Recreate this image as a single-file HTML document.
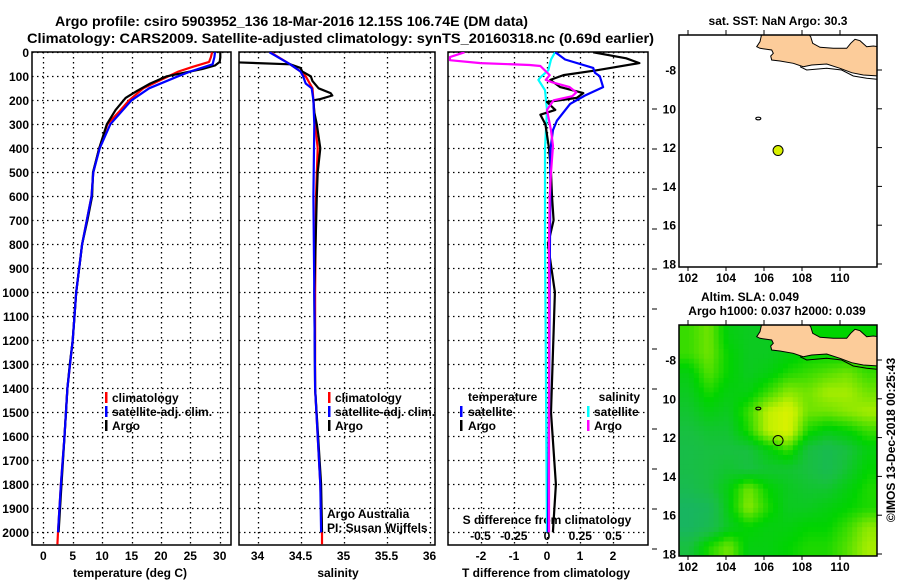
<!DOCTYPE html>
<html><head><meta charset="utf-8"><title>Argo profile</title>
<style>
html,body{margin:0;padding:0;background:#fff;}
svg{display:block;font-family:"Liberation Sans",sans-serif;}
.b{font-weight:bold;font-size:12px;}
</style></head>
<body>
<svg id="chart" width="900" height="580" viewBox="0 0 900 580" xmlns="http://www.w3.org/2000/svg">
<defs>
<clipPath id="c1"><rect x="32" y="52" width="199" height="493"/></clipPath>
<clipPath id="c2"><rect x="239" y="52" width="196" height="493"/></clipPath>
<clipPath id="c3"><rect x="448" y="52" width="200" height="493"/></clipPath>
<clipPath id="cm1"><rect x="679" y="35" width="198" height="232"/></clipPath>
<clipPath id="cm2"><rect x="679" y="325" width="198" height="231"/></clipPath>
</defs>
<text x="55" y="26" textLength="473" lengthAdjust="spacingAndGlyphs" style="font-weight:bold;font-size:14px">Argo profile: csiro 5903952_136 18-Mar-2016 12.15S 106.74E (DM data)</text>
<text x="27" y="43" textLength="627" lengthAdjust="spacingAndGlyphs" style="font-weight:bold;font-size:14px">Climatology: CARS2009. Satellite-adjusted climatology: synTS_20160318.nc (0.69d earlier)</text>
<g id="g1"></g>
<g id="g2"></g>
<g id="g3"></g>
<g id="gm"></g>
</svg>
<script>
// ---------- data ----------
const depthTicks=[0,100,200,300,400,500,600,700,800,900,1000,1100,1200,1300,1400,1500,1600,1700,1800,1900,2000];
const tTicks=[0,5,10,15,20,25,30];
const sTicks=[34,34.5,35,35.5,36];
const sTickLabels=["34","34.5","35","35.5","36"];
const dTTicks=[-2,-1,0,1,2];
const dSTicks=[-0.5,-0.25,0,0.25,0.5];
const dSTickLabels=["-0.5","-0.25","0","0.25","0.5"];

const argoTDepth=[0,20,40,55,70,100,130,160,190,240,300,400,500,600,700,800,900,1000,1100,1200,1300,1400,1600,1800,2000];
const argoT=[30.1,30.1,30.0,29.2,27.0,21.0,18.2,16.0,14.0,12.3,10.8,9.5,8.45,8.3,7.5,6.6,6.1,5.6,5.3,5.0,4.5,4.1,3.6,3.1,2.6];
const climTDepth=[0,20,40,60,80,100,150,200,250,300,400,500,600,800,1000,1200,1400,1600,1800,2000,2050];
const climT=[28.7,28.5,28.2,25.5,23.0,21.3,17.0,14.6,12.8,10.9,9.5,8.5,8.2,6.6,5.6,5.0,4.1,3.6,3.0,2.5,2.4];
const satTDepth=[0,20,50,80,100,150,200,250,300,400,500,600,800,1000,1200,1400,1600,1800,2000];
const satT=[29.2,29.1,28.8,25.0,22.9,18.0,15.0,13.2,11.4,9.6,8.5,8.2,6.6,5.6,5.0,4.1,3.6,3.0,2.5];

const argoSDepth=[0,40,45,50,65,80,100,120,150,170,180,195,200,250,300,400,500,600,1000,1400,1800,2000];
const argoS=[33.6,33.6,34.0,34.38,34.5,34.52,34.62,34.64,34.71,34.85,34.87,34.73,34.65,34.66,34.69,34.73,34.70,34.69,34.66,34.67,34.74,34.75];
const climSDepth=[0,50,80,100,150,200,300,400,600,1000,1400,1800,2000,2050];
const climS=[34.15,34.38,34.5,34.56,34.64,34.65,34.67,34.70,34.68,34.67,34.67,34.73,34.75,34.75];
const satSDepth=[0,50,80,100,130,150,200,300,600,1000,1400,1800,2000];
const satS=[34.14,34.38,34.5,34.53,34.56,34.63,34.65,34.66,34.65,34.66,34.67,34.73,34.74];

const dDepth=[0,25,45,75,95,115,145,170,190,207,240,260,300,400,500,600,700,800,1000,1500,1800,2000];
const argoDT=[1.4,2.4,2.8,1.5,0.5,0.1,0.4,1.1,0.9,0.0,0.25,-0.2,-0.05,0.06,0.12,0.15,0.2,0.03,0.24,0.12,0.27,0.18];
const satDTDepth=[0,30,65,85,100,145,180,215,285,325,410,600,1000,1500,2000];
const satDT=[0.25,0.55,1.4,1.45,1.6,1.7,1.15,0.7,0.3,0.18,0.1,0.1,0.08,0.06,0.03];
const argoDSDepth=[0,20,33,45,53,57,95,115,125,145,167,183,200,240,325,390,500,600,800,1000,1500,2000];
const argoDS=[-0.62,-0.73,-0.73,-0.5,-0.13,-0.05,0.02,-0.01,0.04,0.17,0.22,0.19,0.05,0.0,0.03,0.045,0.03,0.02,0.015,0.015,0.015,0.015];
const satDSDepth=[0,30,75,104,115,158,240,400,500,800,1200,1600,2000];
const satDS=[0.06,0.03,0.01,-0.05,-0.065,-0.015,0.0,-0.015,-0.015,-0.015,-0.01,-0.005,0.0];

const mapLonTicks=[102,104,106,108,110];
const mapLatTicks=[-8,-10,-12,-14,-16,-18];
const mapLatLabels=["-8","10","12","14","16","18"];
const argoLon=106.74, argoLat=-12.15;
// SLA heatmap (normalised 0..1), rows from north to south, 10 columns
const slaGrid=[
[0.6,0.7,0.45,0.4,0.4,0.45,0.5,0.5,0.5,0.5],
[0.6,0.7,0.5,0.4,0.4,0.45,0.5,0.5,0.5,0.5],
[0.45,0.65,0.5,0.4,0.45,0.55,0.6,0.65,0.7,0.6],
[0.4,0.55,0.45,0.45,0.6,0.75,0.7,0.8,0.8,0.7],
[0.35,0.45,0.4,0.6,0.85,0.95,0.7,0.7,0.75,0.8],
[0.3,0.35,0.35,0.55,0.85,0.95,0.55,0.45,0.5,0.6],
[0.25,0.3,0.3,0.3,0.45,0.6,0.3,0.2,0.3,0.45],
[0.25,0.3,0.35,0.3,0.35,0.35,0.3,0.2,0.35,0.5],
[0.2,0.3,0.45,0.7,0.5,0.4,0.35,0.35,0.45,0.55],
[0.1,0.15,0.45,0.75,0.55,0.4,0.4,0.45,0.5,0.55],
[0.1,0.2,0.4,0.5,0.45,0.45,0.5,0.5,0.6,0.75],
[0.3,0.55,0.7,0.45,0.45,0.5,0.55,0.55,0.65,0.8]];

// ---------- scales ----------
const yD=d=>52.3+d*0.24;
const xT=t=>43.3+t*5.88;
const xS=s=>257.5+(s-34)*86;
const xdT=v=>547+v*33;
const xdS=v=>547+v*133;
const mxLon=l=>688+(l-102)*19;
const myLat1=l=>70+(-8-l)*19.4;
const myLat2=l=>360+(-8-l)*19.4;

const NS="http://www.w3.org/2000/svg";
function mk(parent,tag,attrs,txt){const e=document.createElementNS(NS,tag);for(const k in attrs)e.setAttribute(k,attrs[k]);if(txt!==undefined)e.textContent=txt;parent.appendChild(e);return e;}
function pathOf(xs,ds,fx){return xs.map((v,i)=>(i?'L':'M')+fx(v).toFixed(1)+','+yD(ds[i]).toFixed(1)).join('');}

function panel(g,x0,x1,clip,vTickXs){
  for(const d of depthTicks){const y=Math.round(yD(d))+0.5;
    const l=mk(g,'line',{x1:x0,x2:x1,y1:y,y2:y,stroke:'#000','stroke-width':1.3,'stroke-dasharray':'1.5,3.5'});
    
    }
  for(const xx of vTickXs){const x=Math.round(xx)+0.5;
    const l=mk(g,'line',{x1:x,x2:x,y1:52,y2:545,stroke:'#000','stroke-width':1.3,'stroke-dasharray':'1.5,3.5'});
    
    }
  const r=mk(g,'rect',{x:x0,y:52,width:x1-x0,height:493,fill:'none',stroke:'#000','stroke-width':1.5});
  
  
}
function line(g,clip,xs,ds,fx,color,name){
  const p=mk(g,'path',{d:pathOf(xs,ds,fx),fill:'none',stroke:color,'stroke-width':2.2,'clip-path':'url(#'+clip+')','stroke-linejoin':'round'});
  
  
}
function txt(g,x,y,s,name,anchor,cls,extra){
  const t=mk(g,'text',Object.assign({x:x,y:y,'text-anchor':anchor||'start',class:cls||'b'},extra||{}),s);
  
  
  return t;
}
function legendBar(g,x,y,color,name){
  const r=mk(g,'rect',{x:x,y:y,width:2.5,height:11,fill:color});
  
  
}

// ---------- panel 1 ----------
const g1=document.getElementById('g1');
panel(g1,32,231,'c1',tTicks.map(xT));
for(const d of depthTicks){txt(g1,29,yD(d)+4.5,String(d),'y-tick-label','end');}
for(const t of tTicks){txt(g1,xT(t),560,String(t),'x-tick-label','middle');}
txt(g1,130,577,'temperature (deg C)','x-axis-title','middle');
line(g1,'c1',climT,climTDepth,xT,'#ff0000','climatology-temperature-line');
line(g1,'c1',argoT,argoTDepth,xT,'#000000','argo-temperature-line');
line(g1,'c1',satT,satTDepth,xT,'#0000ff','satellite-temperature-line');
legendBar(g1,105,392,'#ff0000','legend-climatology-marker');
txt(g1,112,402,'climatology','legend-climatology');
legendBar(g1,105,406,'#0000ff','legend-satellite-marker');
txt(g1,112,416,'satellite-adj. clim.','legend-satellite');
legendBar(g1,105,420,'#000000','legend-argo-marker');
txt(g1,112,430,'Argo','legend-argo');

// ---------- panel 2 ----------
const g2=document.getElementById('g2');
panel(g2,239,435,'c2',sTicks.map(xS));
sTicks.forEach((s,i)=>txt(g2,xS(s),560,sTickLabels[i],'x-tick-label','middle'));
txt(g2,338,577,'salinity','x-axis-title','middle');
line(g2,'c2',climS,climSDepth,xS,'#ff0000','climatology-salinity-line');
line(g2,'c2',argoS,argoSDepth,xS,'#000000','argo-salinity-line');
line(g2,'c2',satS,satSDepth,xS,'#0000ff','satellite-salinity-line');
legendBar(g2,328,392,'#ff0000','legend-climatology-marker');
txt(g2,335,402,'climatology','legend-climatology');
legendBar(g2,328,406,'#0000ff','legend-satellite-marker');
txt(g2,335,416,'satellite-adj. clim.','legend-satellite');
legendBar(g2,328,420,'#000000','legend-argo-marker');
txt(g2,335,430,'Argo','legend-argo');
txt(g2,327,518,'Argo Australia','credit-argo-australia','start','',{style:'font-size:12px'});
txt(g2,327,532,'PI: Susan Wijffels','credit-pi','start','',{style:'font-size:12px'});

// ---------- panel 3 ----------
const g3=document.getElementById('g3');
panel(g3,448,648,'c3',dTTicks.map(xdT));
for(let y=109;y<=549;y+=40){const l=mk(g3,'line',{x1:652,x2:657,y1:y,y2:y,stroke:'#000','stroke-width':1});
  
  }
dTTicks.forEach(v=>txt(g3,xdT(v),560,String(v),'t-diff-tick-label','middle'));
dSTicks.forEach((v,i)=>txt(g3,xdS(v),540,dSTickLabels[i],'s-diff-tick-label','middle'));
txt(g3,547,524,'S difference from climatology','s-diff-axis-title','middle');
txt(g3,546,577,'T difference from climatology','t-diff-axis-title','middle');
line(g3,'c3',satDS,satDSDepth,xdS,'#00ffff','satellite-salinity-diff-line');
line(g3,'c3',argoDT,dDepth,xdT,'#000000','argo-temperature-diff-line');
line(g3,'c3',satDT,satDTDepth,xdT,'#0000ff','satellite-temperature-diff-line');
line(g3,'c3',argoDS,argoDSDepth,xdS,'#ff00ff','argo-salinity-diff-line');
txt(g3,468,401,'temperature','legend-temperature-heading');
legendBar(g3,460,406,'#0000ff','legend-t-satellite-marker');
txt(g3,468,416,'satellite','legend-t-satellite');
legendBar(g3,460,420,'#000000','legend-t-argo-marker');
txt(g3,468,430,'Argo','legend-t-argo');
txt(g3,640,401,'salinity','legend-salinity-heading','end');
legendBar(g3,587,406,'#00ffff','legend-s-satellite-marker');
txt(g3,594,416,'satellite','legend-s-satellite');
legendBar(g3,587,420,'#ff00ff','legend-s-argo-marker');
txt(g3,594,430,'Argo','legend-s-argo');

// ---------- maps ----------
const gm=document.getElementById('gm');
const landPts=[[82.7,-1],[81,6.7],[77.7,11.7],[81,13.3],[92.7,15],[94.3,18.3],[91.7,21],[92.7,25],[101,26],[114.3,28.3],[124.3,31.7],[132.7,30],[147.7,29],[161,33.3],[172.7,37.7],[184.3,40],[199,41],[199,11.7],[194.3,11],[187.7,11.7],[181,5.7],[176,4.3],[171.7,8.3],[167.7,13.3],[154.3,13.3],[141,12.3],[133.7,8.3],[131.7,1.7],[129.3,-1]];
const stripPts=[[121,31.7],[127.7,35],[147.7,33.3],[162.7,35],[174.3,41],[187.7,43.3],[199,44.3]];
const stops=[[0,[24,176,112]],[0.3,[24,192,64]],[0.5,[0,212,0]],[0.7,[112,228,0]],[0.85,[192,240,0]],[1,[232,242,0]]];
function cmap(v){v=Math.max(0,Math.min(1,v));for(let i=1;i<stops.length;i++){if(v<=stops[i][0]){const a=stops[i-1],b=stops[i],f=(v-a[0])/(b[0]-a[0]);return 'rgb('+a[1].map((c,k)=>Math.round(c+(b[1][k]-c)*f)).join(',')+')';}}return 'rgb(232,242,0)';}
function sample(fr,fc){
  const R=slaGrid.length,C=slaGrid[0].length;
  fr=Math.max(0,Math.min(R-1,fr));fc=Math.max(0,Math.min(C-1,fc));
  const r0=Math.floor(fr),c0=Math.floor(fc),r1=Math.min(R-1,r0+1),c1=Math.min(C-1,c0+1),a=fr-r0,b=fc-c0;
  return slaGrid[r0][c0]*(1-a)*(1-b)+slaGrid[r0][c1]*(1-a)*b+slaGrid[r1][c0]*a*(1-b)+slaGrid[r1][c1]*a*b;
}

function map(top,clip,myLat,heat,name){
  const g=mk(gm,'g',{});
  
  
  const inner=mk(g,'g',{'clip-path':'url(#'+clip+')'});
  if(heat){
    const R=slaGrid.length,C=slaGrid[0].length,S=4,cw=198/(C*S),ch=231/(R*S);
    for(let r=0;r<R*S;r++)for(let c=0;c<C*S;c++){
      const v=sample((r+0.5)/S-0.5,(c+0.5)/S-0.5);
      const cell=mk(inner,'rect',{x:(679+c*cw).toFixed(2),y:(top+r*ch).toFixed(2),width:(cw+0.5).toFixed(2),height:(ch+0.5).toFixed(2),fill:cmap(v)});
      
      
    }
  }
  const land=mk(inner,'polygon',{points:landPts.map(p=>(679+p[0])+','+(top+p[1])).join(' '),fill:'#fccc9a',stroke:'#000','stroke-width':1});
  
  
  const strip=mk(inner,'polyline',{points:stripPts.map(p=>(679+p[0])+','+(top+p[1])).join(' '),fill:'none',stroke:'#000','stroke-width':1});
  
  
  const isl=mk(inner,'ellipse',{cx:mxLon(105.7),cy:myLat(-10.5),rx:2.5,ry:1.3,fill:'none',stroke:'#000','stroke-width':1.2});
  
  
  const dot=mk(g,'circle',{cx:mxLon(argoLon),cy:myLat(argoLat),r:5,fill:heat?'none':'#d8f000',stroke:'#000','stroke-width':1});
  
  
  const fr=mk(g,'rect',{x:679,y:top,width:198,height:heat?231:232,fill:'none',stroke:'#000','stroke-width':1.5});
  
  
  const bottom=top+(heat?231:232);
  mapLonTicks.forEach(l=>{const x=mxLon(l);
    mk(g,'line',{x1:x,x2:x,y1:top-5,y2:top,stroke:'#000'});
    mk(g,'line',{x1:x,x2:x,y1:bottom,y2:bottom+4,stroke:'#000'});
    txt(g,x,bottom+15,String(l),'map-lon-label','middle');});
  mapLatTicks.forEach((l,i)=>{const y=myLat(l);
    mk(g,'line',{x1:877,x2:882,y1:y,y2:y,stroke:'#000'});
    txt(g,676,y+4.5,mapLatLabels[i],'map-lat-label','end');});
}
txt(gm,778,25,'sat. SST: NaN Argo: 30.3','sst-map-title','middle');
map(35,'cm1',myLat1,false,'sst-map');
txt(gm,750,301,'Altim. SLA: 0.049','sla-map-title','middle');
txt(gm,777,315,'Argo h1000: 0.037 h2000: 0.039','sla-map-subtitle','middle');
map(325,'cm2',myLat2,true,'sla-map');
txt(gm,0,0,'©IMOS 13-Dec-2018 00:25:43','imos-timestamp','middle','',{style:'font-size:12px',transform:'translate(895,440) rotate(-90)'});
</script>
</body></html>
